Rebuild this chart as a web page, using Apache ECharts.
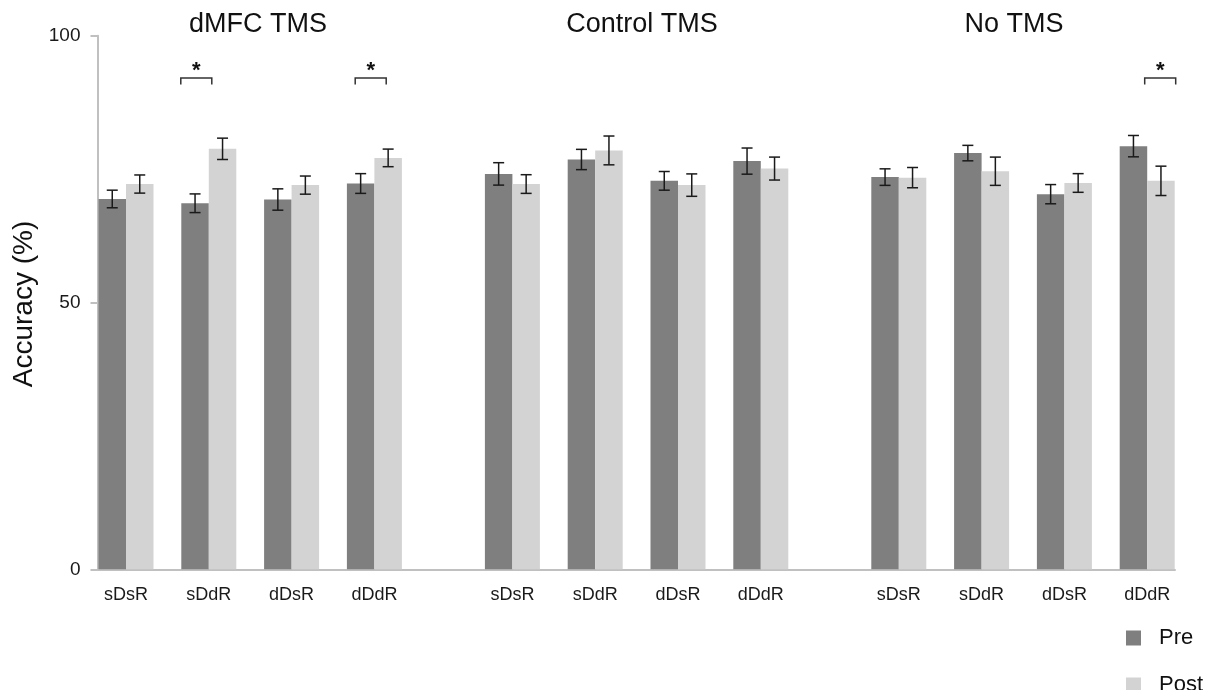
<!DOCTYPE html>
<html>
<head>
<meta charset="utf-8">
<script src="https://cdn.jsdelivr.net/npm/echarts@6/dist/echarts.min.js"></script>
<style>
html,body{margin:0;padding:0;background:#fff;}
#main{width:1219px;height:690px;}
</style>
</head>
<body>
<div id="main"></div>
<script>
// ---- data ----
var sections = ['dMFC TMS', 'Control TMS', 'No TMS'];
var conditions = ['sDsR', 'sDdR', 'dDsR', 'dDdR'];
var seriesNames = ['Pre', 'Post'];
var yTicks = [0, 50, 100];
var preValues  = [69.4, 68.6, 69.3, 72.3, 74.1, 76.8, 72.8, 76.5, 73.5, 78.0, 70.3, 79.3];
var postValues = [72.2, 78.8, 72.0, 77.1, 72.2, 78.5, 72.0, 75.1, 73.4, 74.6, 72.4, 72.8];
var preErr  = [1.65, 1.75, 2.0, 1.85, 2.1, 1.9, 1.75, 2.45, 1.55, 1.45, 1.8, 2.0];
var postErr = [1.7, 2.0, 1.7, 1.65, 1.75, 2.7, 2.1, 2.15, 1.9, 2.65, 1.75, 2.75];
var sigGroups = [1, 3, 11];

// ---- layout helpers ----
var GROUP_STRIDE = 3, SECTION_GAP = 5;
var SECTION_STRIDE = (conditions.length - 1) * GROUP_STRIDE + SECTION_GAP;
var nSlots = (sections.length - 1) * SECTION_STRIDE + (conditions.length - 1) * GROUP_STRIDE + 1;
function slotOf(i) {
  var s = Math.floor(i / conditions.length), g = i % conditions.length;
  return s * SECTION_STRIDE + g * GROUP_STRIDE;
}
var slotLabels = [], preData = [], postData = [];
for (var k = 0; k < nSlots; k++) { slotLabels.push(''); preData.push('-'); postData.push('-'); }
var preErrData = [], postErrData = [];
for (var i = 0; i < preValues.length; i++) {
  var sl = slotOf(i);
  slotLabels[sl] = conditions[i % conditions.length];
  preData[sl] = preValues[i];
  postData[sl] = postValues[i];
  preErrData.push([sl, preValues[i] - preErr[i], preValues[i] + preErr[i]]);
  postErrData.push([sl, postValues[i] - postErr[i], postValues[i] + postErr[i]]);
}
var BAR_W = 27.5;
var sigShift = {1: -12.5, 3: -3.7, 11: 13};
var sigData = sigGroups.map(function (g) { return [slotOf(g), g]; });

var PRE_COLOR = '#7f7f7f', POST_COLOR = '#d3d3d3', AXIS_COLOR = '#c0c0c0';
var FONT = 'Liberation Sans, Arial, Helvetica, sans-serif';

function errRender(sign) {
  return function (params, api) {
    var c = api.coord([api.value(0), api.value(1)]);
    var h = api.coord([api.value(0), api.value(2)]);
    var x = c[0] + sign * BAR_W / 2;
    var capW = 5.5;
    var st = {stroke: '#1a1a1a', lineWidth: 1.5};
    return {type: 'group', children: [
      {type: 'line', shape: {x1: x, y1: c[1], x2: x, y2: h[1]}, style: st},
      {type: 'line', shape: {x1: x - capW, y1: c[1], x2: x + capW, y2: c[1]}, style: st},
      {type: 'line', shape: {x1: x - capW, y1: h[1], x2: x + capW, y2: h[1]}, style: st}
    ]};
  };
}
function sigRender(params, api) {
  var p = api.coord([api.value(0), 0]);
  var g = api.value(1);
  var cx = p[0] + (sigShift[g] || 0);
  var top = 78, leg = 6.5, half = 15.5;
  var st = {stroke: '#333', lineWidth: 1.5, fill: null};
  return {type: 'group', children: [
    {type: 'polyline', shape: {points: [[cx - half, top + leg], [cx - half, top], [cx + half, top], [cx + half, top + leg]]}, style: st},
    {type: 'text', style: {text: '*', x: cx, y: 71, align: 'center', verticalAlign: 'middle',
      font: 'bold 22px ' + FONT, fill: '#111'}}
  ]};
}

function legendFor(name, top) {
  return {
    data: [name], orient: 'vertical', left: 1126, top: top, padding: 0,
    itemWidth: 15, itemHeight: 15, icon: 'rect',
    textStyle: {fontSize: 22, color: '#111', fontFamily: FONT, padding: [0, 0, 0, 13]}
  };
}

var chart = echarts.init(document.getElementById('main'));
var option = {
  animation: false,
  backgroundColor: '#fff',
  grid: [
    {left: 97.5, right: 44, top: 35.7, bottom: 120.7},
    {left: 112.2, right: 58, top: 35.7, bottom: 120.7}
  ],
  xAxis: [
    {gridIndex: 0, type: 'value', min: 0, max: 1,
      axisLine: {show: true, lineStyle: {color: AXIS_COLOR, width: 2}},
      axisTick: {show: false}, axisLabel: {show: false}, splitLine: {show: false}},
    {gridIndex: 1, type: 'category', data: slotLabels,
      axisLine: {show: false}, axisTick: {show: false},
      axisLabel: {interval: 0, margin: 17, color: '#1a1a1a', fontSize: 18, fontFamily: FONT}}
  ],
  yAxis: [
    {gridIndex: 0, type: 'value', min: yTicks[0], max: yTicks[yTicks.length - 1], interval: yTicks[1] - yTicks[0],
      axisLine: {show: true, lineStyle: {color: AXIS_COLOR, width: 2}},
      axisTick: {show: true, length: 7, lineStyle: {color: AXIS_COLOR, width: 2}},
      axisLabel: {margin: 17, color: '#1a1a1a', fontSize: 19, fontFamily: FONT},
      splitLine: {show: false}},
    {gridIndex: 1, type: 'value', min: yTicks[0], max: yTicks[yTicks.length - 1],
      show: false, splitLine: {show: false}}
  ],
  legend: [legendFor(seriesNames[0], 627), legendFor(seriesNames[1], 674)],
  series: [
    {name: seriesNames[0], type: 'bar', xAxisIndex: 1, yAxisIndex: 1, data: preData, clip: false,
      barWidth: BAR_W, barGap: '0%', itemStyle: {color: PRE_COLOR}, z: 2},
    {name: seriesNames[1], type: 'bar', xAxisIndex: 1, yAxisIndex: 1, data: postData, clip: false,
      barWidth: BAR_W, barGap: '0%', itemStyle: {color: POST_COLOR}, z: 2},
    {type: 'custom', xAxisIndex: 1, yAxisIndex: 1, data: preErrData, renderItem: errRender(-1), clip: false, z: 5},
    {type: 'custom', xAxisIndex: 1, yAxisIndex: 1, data: postErrData, renderItem: errRender(1), clip: false, z: 5},
    {type: 'custom', xAxisIndex: 1, yAxisIndex: 1, data: sigData, renderItem: sigRender, clip: false, z: 5}
  ],
  graphic: [
    {type: 'text', x: 258, y: 25, style: {text: sections[0], align: 'center', verticalAlign: 'middle', font: '27px ' + FONT, fill: '#111'}},
    {type: 'text', x: 642, y: 25, style: {text: sections[1], align: 'center', verticalAlign: 'middle', font: '27px ' + FONT, fill: '#111'}},
    {type: 'text', x: 1014, y: 25, style: {text: sections[2], align: 'center', verticalAlign: 'middle', font: '27px ' + FONT, fill: '#111'}},
    {type: 'text', x: 24, y: 304, rotation: Math.PI / 2,
      style: {text: 'Accuracy (%)', align: 'center', verticalAlign: 'middle', font: '28px ' + FONT, fill: '#111'}}
  ]
};
chart.setOption(option);
</script>
</body>
</html>
